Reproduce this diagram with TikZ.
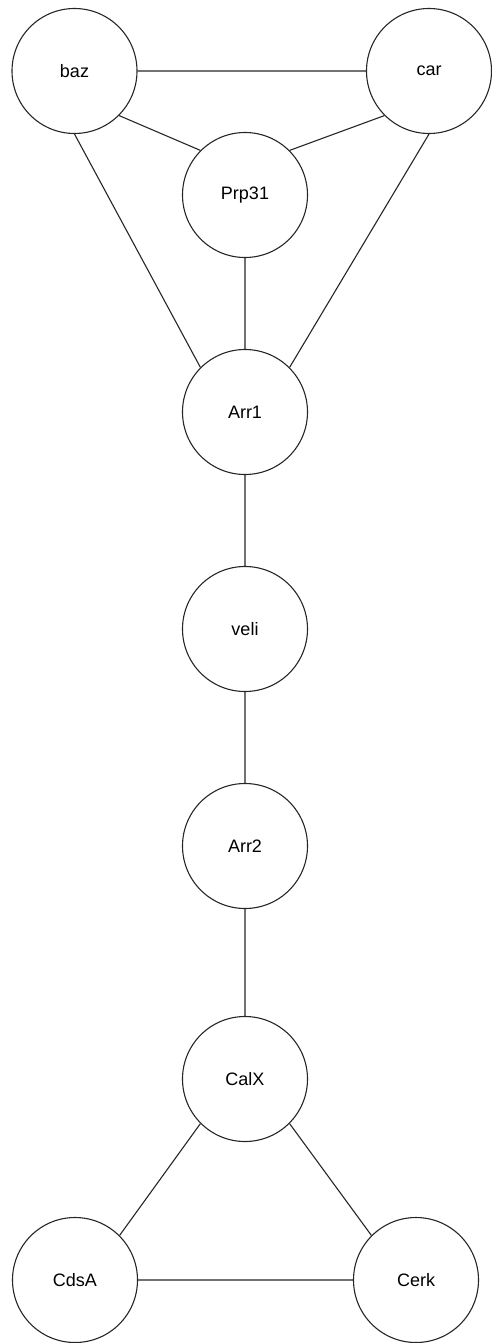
\documentclass[tikz,border=0pt]{standalone}
\usepackage{fontspec}
\setmainfont{Liberation Sans}

\begin{document}
\begin{tikzpicture}[x=1pt, y=-1pt,
        gene/.style={circle, draw=black!85, line width=1.1pt, minimum size=125pt,
                     inner sep=0pt, font=\fontsize{18}{21}\selectfont},
        link/.style={draw=black!85, line width=1.1pt}]
        \useasboundingbox (0, 0) rectangle (491, 1343);

        % top triangle
        \node[gene] (baz)   at (74.5, 71)  {baz};
        \node[gene] (car)   at (429, 71)   {car};
        \node[gene] (prp31) at (245, 195)  {Prp31};

        % the chain down the middle
        \node[gene] (arr1)  at (245, 412)  {Arr1};
        \node[gene] (veli)  at (245, 629)  {veli};
        \node[gene] (arr2)  at (245, 846)  {Arr2};

        % bottom triangle
        \node[gene] (calx)  at (245, 1079) {CalX};
        \node[gene] (cdsa)  at (75, 1280)  {CdsA};
        \node[gene] (cerk)  at (416, 1280) {Cerk};

        \path[link] (baz.east) -- (car.west)
                    (baz.south east) -- (prp31.north west)
                    (car.south west) -- (prp31.north east)
                    (baz.south) -- (arr1.north west)
                    (car.south) -- (arr1.north east)
                    (prp31.south) -- (arr1.north)
                    (arr1.south) -- (veli.north)
                    (veli.south) -- (arr2.north)
                    (arr2.south) -- (calx.north)
                    (calx.south west) -- (cdsa.north east)
                    (calx.south east) -- (cerk.north west)
                    (cdsa.east) -- (cerk.west);
    \end{tikzpicture}
\end{document}
